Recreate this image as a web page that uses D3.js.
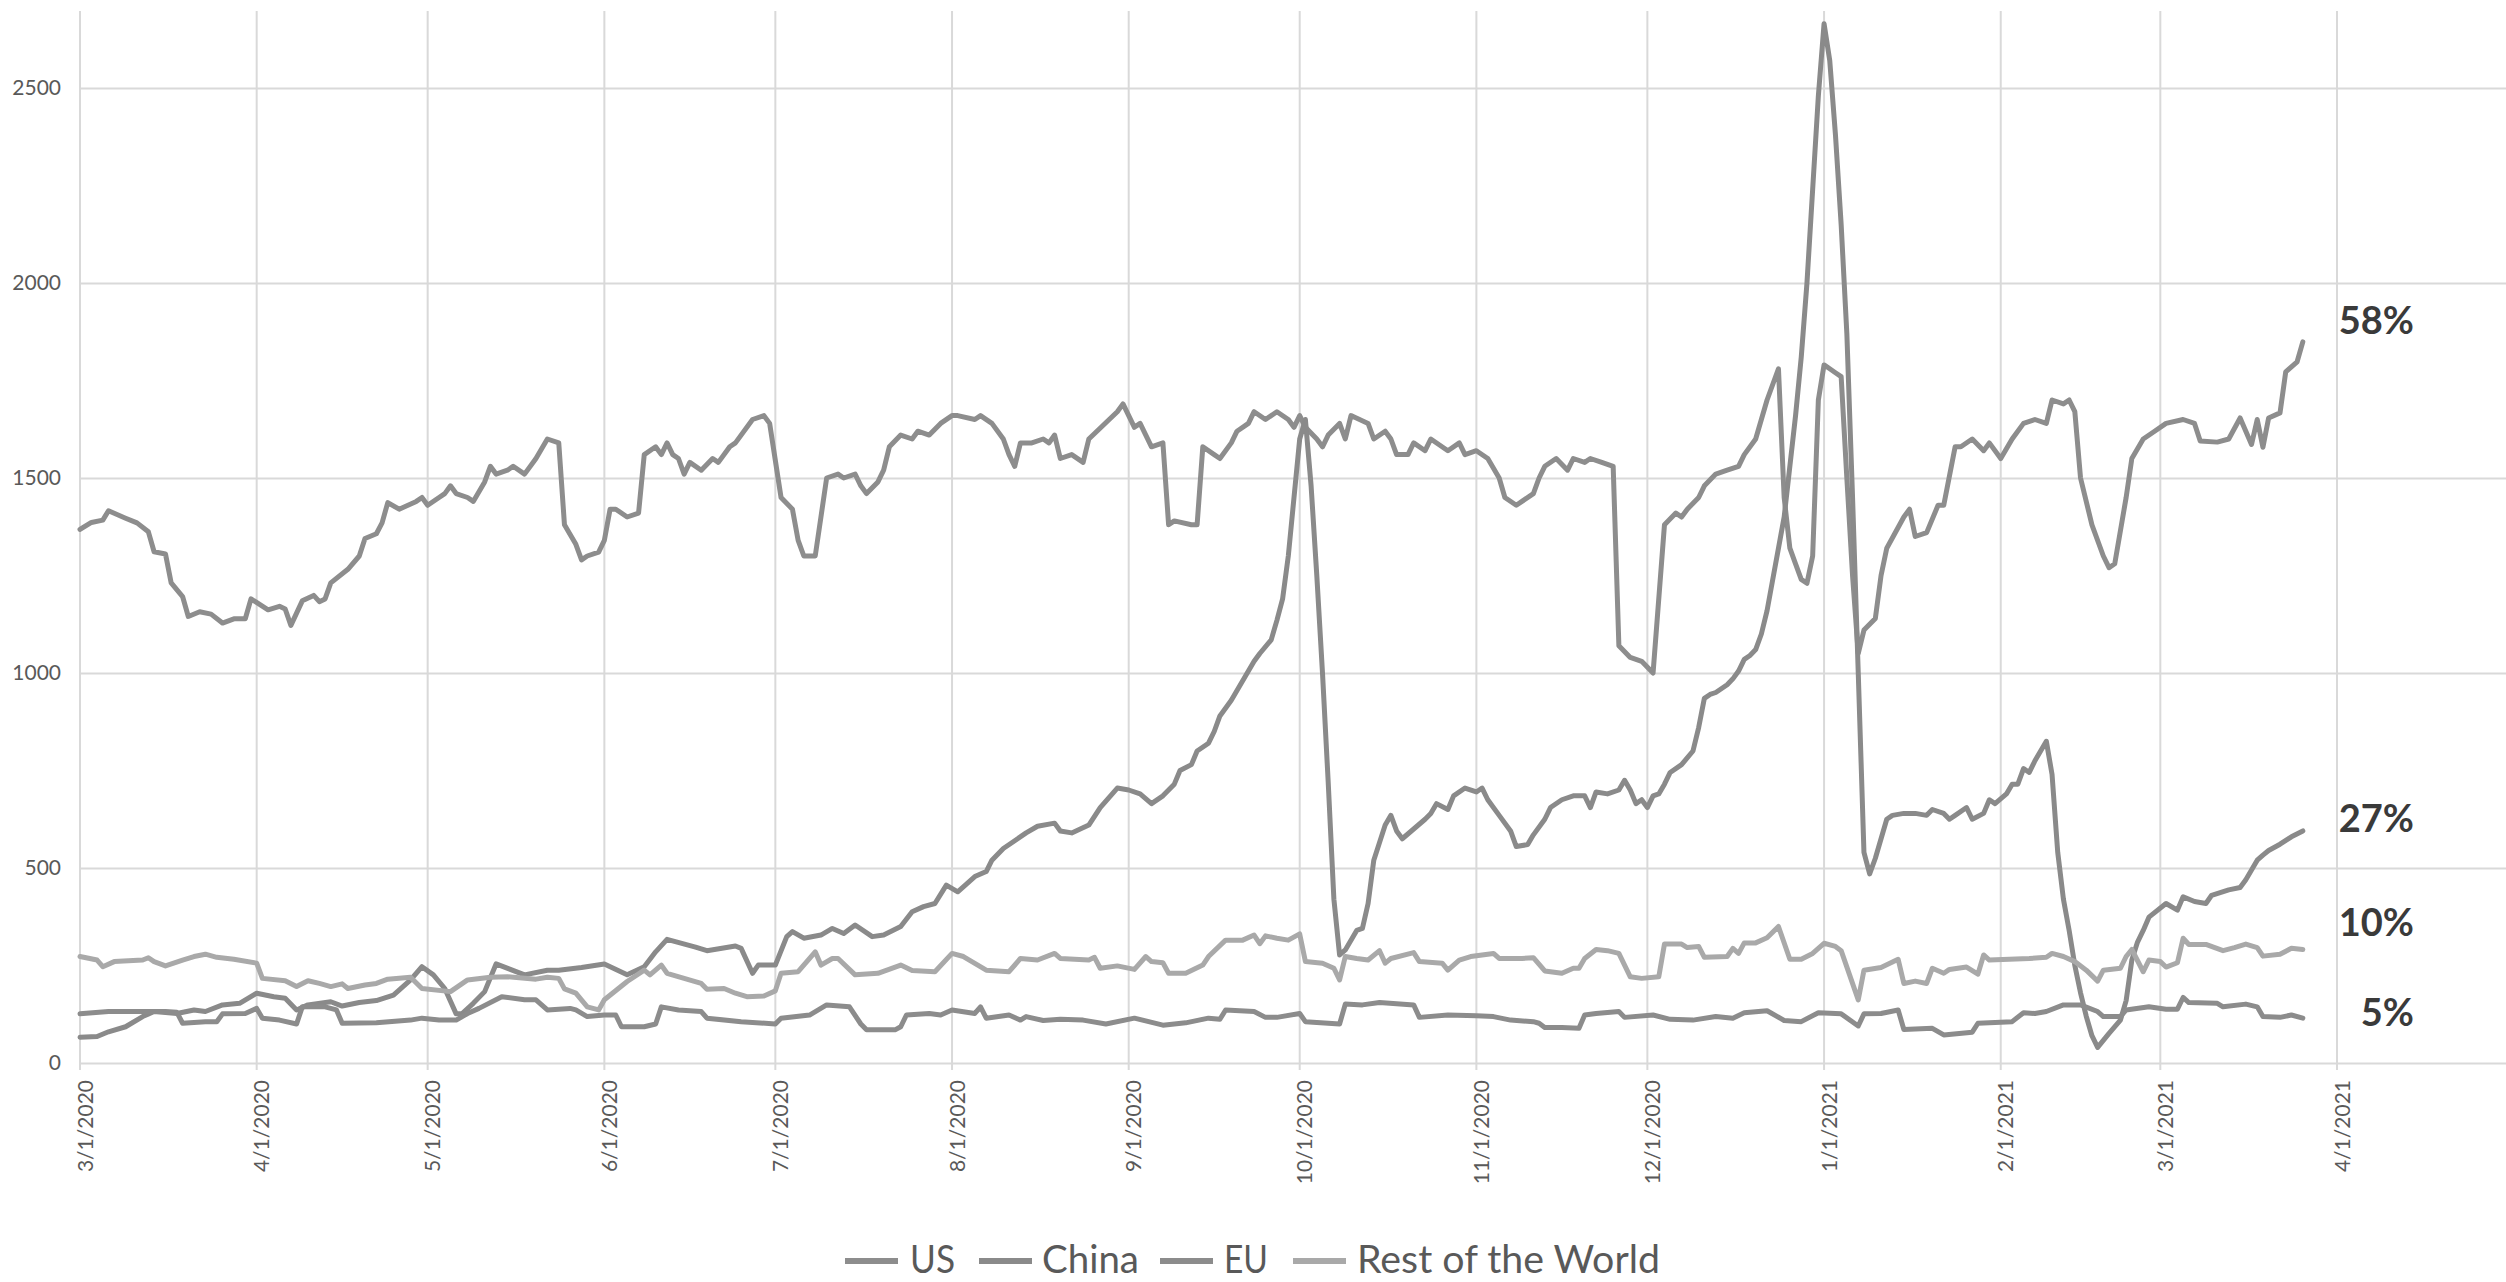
<!DOCTYPE html>
<html>
<head>
<meta charset="utf-8">
<script src="https://cdn.jsdelivr.net/npm/d3@7"></script>
<style>
  html, body { margin: 0; padding: 0; background: #ffffff; }
  svg { display: block; }
</style>
</head>
<body>
<div id="chart"></div>
<script>
// ---------------- DATA ----------------
const startDate = "2020-03-01";           // day 0 of every series
const seriesNames = ["US", "China", "EU", "Rest of the World"];
const shareLabels = ["58%", "27%", "10%", "5%"];
const yTickValues = [0, 500, 1000, 1500, 2000, 2500];
const lastLabelledMonth = "2021-04-01";

// [days since startDate, value]
const usPoints = [[0,1368],[2,1386],[4,1392],[5,1416],[8,1397],[10,1385],[12,1362],[13,1311],[15,1305],[16,1231],[18,1196],[19,1145],[21,1157],[23,1151],[25,1128],[27,1139],[29,1139],[30,1190],[33,1162],[35,1171],[36,1164],[37,1122],[39,1185],[41,1199],[42,1183],[43,1190],[44,1231],[47,1266],[49,1300],[50,1345],[52,1357],[53,1385],[54,1437],[56,1420],[59,1440],[60,1450],[61,1430],[63,1450],[64,1460],[65,1480],[66,1460],[68,1450],[69,1440],[71,1490],[72,1530],[73,1510],[75,1520],[76,1530],[78,1510],[80,1550],[82,1600],[84,1590],[85,1380],[87,1330],[88,1290],[89,1300],[91,1310],[92,1340],[93,1420],[94,1420],[96,1400],[98,1410],[99,1560],[101,1580],[102,1560],[103,1590],[104,1560],[105,1550],[106,1510],[107,1540],[109,1520],[111,1550],[112,1540],[114,1580],[115,1590],[118,1650],[120,1660],[121,1640],[123,1450],[125,1420],[126,1340],[127,1300],[129,1300],[131,1500],[133,1510],[134,1500],[136,1510],[137,1480],[138,1460],[140,1490],[141,1520],[142,1580],[144,1610],[146,1600],[147,1620],[149,1610],[151,1640],[153,1660],[154,1660],[157,1650],[158,1660],[160,1640],[162,1600],[163,1560],[164,1530],[165,1590],[167,1590],[169,1600],[170,1590],[171,1610],[172,1550],[174,1560],[176,1540],[177,1600],[182,1670],[183,1690],[185,1630],[186,1640],[187,1610],[188,1580],[190,1590],[191,1380],[192,1390],[195,1380],[196,1380],[197,1580],[199,1560],[200,1550],[202,1590],[203,1620],[205,1640],[206,1670],[208,1650],[210,1670],[212,1650],[213,1630],[214,1660],[215,1630],[217,1600],[218,1580],[219,1610],[221,1640],[222,1600],[223,1660],[226,1640],[227,1600],[229,1620],[230,1600],[231,1560],[233,1560],[234,1590],[236,1570],[237,1600],[240,1570],[242,1590],[243,1560],[245,1570],[247,1550],[249,1500],[250,1450],[252,1430],[253,1440],[255,1460],[256,1500],[257,1530],[259,1550],[261,1520],[262,1550],[264,1540],[265,1550],[267,1540],[269,1530],[270,1070],[272,1040],[274,1030],[276,1000],[278,1380],[280,1410],[281,1400],[282,1420],[284,1450],[285,1480],[287,1510],[289,1520],[291,1530],[292,1560],[294,1600],[295,1650],[296,1700],[298,1780],[299,1450],[300,1320],[301,1280],[302,1240],[303,1230],[304,1300],[305,1700],[306,1790],[307,1780],[308,1770],[309,1760],[310,1500],[311,1250],[312,1050],[313,1110],[315,1140],[316,1250],[317,1320],[320,1400],[321,1420],[322,1350],[324,1360],[326,1430],[327,1430],[329,1580],[330,1580],[332,1600],[334,1570],[335,1590],[337,1550],[339,1600],[341,1640],[343,1650],[345,1640],[346,1700],[348,1690],[349,1700],[350,1670],[351,1500],[353,1380],[355,1300],[356,1270],[357,1280],[359,1450],[360,1550],[362,1600],[364,1620],[366,1640],[369,1650],[371,1640],[372,1595],[375,1592],[377,1600],[379,1654],[381,1586],[382,1650],[383,1579],[384,1654],[386,1667],[387,1772],[389,1798],[390,1849]];

const chinaPoints = [[0,66],[3,68],[5,80],[8,93],[11,119],[13,132],[17,127],[20,136],[22,132],[25,149],[28,153],[31,179],[34,170],[36,166],[38,136],[40,149],[44,157],[46,146],[49,155],[52,160],[55,174],[58,213],[60,247],[62,226],[64,191],[66,126],[67,126],[69,153],[71,183],[73,254],[78,226],[82,238],[84,238],[88,245],[92,254],[96,226],[99,247],[101,285],[103,317],[108,297],[110,288],[115,300],[116,294],[118,230],[119,251],[122,251],[124,324],[125,337],[127,320],[130,328],[132,345],[134,332],[136,354],[139,324],[141,328],[144,350],[146,388],[148,401],[150,409],[152,456],[154,439],[157,478],[159,491],[160,520],[162,550],[164,570],[166,590],[168,607],[171,615],[172,595],[174,590],[177,610],[179,655],[182,705],[184,700],[186,690],[188,665],[190,685],[192,715],[193,750],[195,765],[196,800],[198,820],[199,850],[200,890],[202,930],[203,955],[205,1005],[206,1030],[207,1050],[209,1085],[210,1135],[211,1190],[212,1300],[213,1450],[214,1600],[215,1650],[216,1480],[217,1250],[218,1000],[219,720],[220,420],[221,277],[222,290],[224,340],[225,345],[226,409],[227,520],[229,610],[230,635],[231,595],[232,575],[234,600],[236,625],[237,640],[238,665],[240,650],[241,685],[243,705],[245,695],[246,705],[247,675],[249,635],[251,595],[252,555],[254,560],[255,585],[257,625],[258,655],[260,675],[262,685],[264,685],[265,655],[266,695],[268,690],[270,700],[271,725],[272,700],[273,665],[274,675],[275,655],[276,685],[277,690],[278,715],[279,745],[281,765],[283,800],[284,860],[285,935],[286,945],[287,950],[289,970],[290,985],[291,1005],[292,1035],[293,1045],[294,1060],[295,1100],[296,1160],[297,1240],[298,1320],[299,1400],[300,1530],[301,1660],[302,1810],[303,2000],[304,2240],[305,2480],[306,2665],[307,2570],[308,2380],[309,2150],[310,1870],[311,1450],[312,1000],[313,540],[314,485],[315,525],[317,625],[318,635],[320,640],[322,640],[324,635],[325,650],[327,640],[328,625],[329,635],[331,655],[332,625],[334,640],[335,675],[336,665],[338,690],[339,715],[340,715],[341,755],[342,745],[343,775],[344,800],[345,825],[346,740],[347,540],[348,420],[349,340],[350,250],[351,180],[352,120],[353,70],[354,40],[356,76],[358,110],[359,160],[360,264],[361,310],[362,340],[363,374],[366,409],[368,392],[369,426],[371,414],[373,409],[374,430],[377,444],[379,450],[380,470],[382,520],[383,533],[384,545],[386,561],[388,580],[390,595]];

const euPoints = [[0,126],[5,132],[11,132],[15,132],[17,130],[18,102],[22,106],[24,106],[25,126],[29,127],[31,140],[32,115],[35,110],[38,100],[39,144],[43,144],[45,136],[46,102],[52,103],[58,110],[60,115],[63,110],[66,110],[68,127],[70,140],[74,170],[78,162],[80,162],[82,136],[86,140],[87,136],[89,119],[92,123],[94,123],[95,93],[99,93],[101,100],[102,144],[105,136],[109,132],[110,115],[116,106],[122,100],[123,115],[128,123],[131,149],[135,144],[137,100],[138,85],[143,85],[144,93],[145,123],[149,127],[151,123],[153,136],[157,127],[158,144],[159,115],[163,123],[165,110],[166,119],[169,109],[172,112],[176,110],[180,100],[185,115],[190,97],[194,103],[198,115],[200,112],[201,136],[206,132],[208,117],[210,117],[214,127],[215,106],[221,100],[222,151],[225,149],[228,155],[234,149],[235,117],[240,123],[245,121],[248,119],[251,110],[255,106],[256,102],[257,91],[260,91],[263,89],[264,123],[266,127],[270,132],[271,117],[276,123],[279,112],[283,110],[287,119],[290,115],[292,129],[296,134],[299,109],[302,106],[305,129],[309,126],[312,95],[313,126],[316,127],[319,136],[320,86],[325,89],[327,72],[332,79],[333,102],[339,106],[341,129],[343,127],[345,132],[348,149],[351,149],[354,132],[355,119],[358,119],[359,136],[363,144],[366,138],[368,138],[369,168],[370,155],[375,153],[376,144],[380,151],[382,144],[383,119],[386,117],[388,123],[390,115]];

const rowPoints = [[0,273],[3,264],[4,247],[6,260],[11,264],[12,270],[13,260],[15,249],[18,264],[20,273],[22,279],[24,271],[27,266],[31,256],[32,217],[36,211],[38,196],[40,211],[42,204],[44,196],[46,203],[47,191],[50,200],[52,204],[54,215],[58,220],[60,191],[65,183],[68,213],[72,220],[75,221],[80,215],[82,220],[84,217],[85,190],[87,179],[89,144],[91,136],[92,162],[96,209],[99,238],[100,226],[102,251],[103,230],[106,217],[109,204],[110,189],[113,191],[115,179],[117,170],[120,172],[122,185],[123,230],[126,234],[129,285],[130,251],[132,268],[133,268],[136,226],[140,230],[144,251],[146,237],[150,234],[153,281],[155,273],[159,238],[163,234],[165,268],[168,264],[171,281],[172,268],[177,264],[178,271],[179,243],[182,249],[185,240],[187,273],[188,260],[190,257],[191,230],[194,230],[197,251],[198,273],[201,315],[204,315],[206,328],[207,306],[208,326],[210,320],[212,315],[214,331],[215,260],[218,256],[220,243],[221,213],[222,273],[224,268],[226,264],[228,288],[229,256],[230,268],[234,283],[235,260],[239,256],[240,238],[242,264],[244,273],[248,281],[249,268],[253,268],[255,270],[257,236],[260,230],[262,243],[263,243],[264,268],[266,291],[268,288],[270,281],[272,221],[274,217],[277,221],[278,305],[281,305],[282,296],[284,299],[285,271],[289,273],[290,294],[291,281],[292,308],[294,308],[296,321],[298,350],[300,266],[302,266],[304,281],[306,307],[308,299],[309,288],[312,162],[313,238],[316,245],[319,266],[320,204],[322,210],[324,204],[325,243],[327,230],[328,240],[331,246],[333,228],[334,277],[335,264],[342,268],[345,271],[346,281],[348,273],[350,260],[352,238],[354,210],[355,238],[358,243],[359,273],[360,291],[362,234],[363,264],[365,260],[366,246],[368,257],[369,320],[370,304],[373,304],[376,288],[378,296],[380,305],[382,296],[383,274],[386,279],[388,294],[390,291]];

// ---------------- LAYOUT / STYLE ----------------
const W = 2506, H = 1282;
const plot = { left: 80, right: 2508, top: 11, bottom: 1063 };
const colors = ["#8d8d8d", "#8a8a8a", "#8c8c8c", "#a9a9a9"];
const font = "Lato, 'Open Sans', 'DejaVu Sans', sans-serif";

const svg = d3.select("#chart").append("svg")
  .attr("width", W).attr("height", H)
  .style("background", "#fff");

const parse = d3.utcParse("%Y-%m-%d");
const t0 = parse(startDate);
const toSeries = pts => pts.map(([d, v]) => ({ date: d3.utcDay.offset(t0, d), value: v }));
const allSeries = [usPoints, chinaPoints, euPoints, rowPoints].map(toSeries);

const x = d3.scaleUtc()
  .domain([parse("2020-03-01"), parse("2021-05-01")])
  .range([plot.left, plot.right]);
const y = d3.scaleLinear().domain([0, 2500]).range([plot.bottom, 88]);

// horizontal gridlines + y labels
const yAxis = d3.axisLeft(y).tickValues(yTickValues)
  .tickSize(-(W - plot.left)).tickPadding(19).tickFormat(d3.format("d"));
const gy = svg.append("g").attr("transform", `translate(${plot.left},0)`).call(yAxis);
gy.select(".domain").remove();
gy.selectAll(".tick line").attr("stroke", "#d9d9d9").attr("stroke-width", 2);
gy.selectAll(".tick text").attr("fill", "#595959")
  .style("font-family", font).style("font-size", "21px");

// vertical gridlines (monthly)
const months = x.ticks(d3.utcMonth.every(1));
svg.append("g").selectAll("line").data(months).join("line")
  .attr("x1", d => x(d)).attr("x2", d => x(d))
  .attr("y1", plot.top).attr("y2", plot.bottom + 7)
  .attr("stroke", "#d9d9d9").attr("stroke-width", 2);

// x labels
const fmt = d3.utcFormat("%-m/%-d/%Y");
const lastLabel = parse(lastLabelledMonth);
svg.append("g").selectAll("text").data(months.filter(d => d <= lastLabel)).join("text")
  .attr("transform", d => `translate(${x(d) + 4},${plot.bottom + 17}) rotate(-90)`)
  .attr("text-anchor", "end")
  .attr("dominant-baseline", "central")
  .attr("fill", "#595959")
  .style("font-family", font).style("font-size", "21px")
  .text(d => fmt(d));

// lines
const line = d3.line().x(d => x(d.date)).y(d => y(d.value));
svg.append("g").selectAll("path").data(allSeries).join("path")
  .attr("d", line)
  .attr("fill", "none")
  .attr("stroke", (d, i) => colors[i])
  .attr("stroke-width", 5)
  .attr("stroke-linejoin", "round")
  .attr("stroke-linecap", "round");

// share labels at the right
const labelPos = [334, 832, 936, 1026];
svg.append("g").selectAll("text").data(shareLabels).join("text")
  .attr("x", 2414).attr("y", (d, i) => labelPos[i])
  .attr("text-anchor", "end")
  .attr("fill", "#3a3a3a")
  .style("font-family", font).style("font-size", "38px").style("font-weight", "bold")
  .text(d => d);

// legend
const legendItems = [
  { mx: 845, tx: 910, tw: 45 },
  { mx: 979, tx: 1042, tw: 97 },
  { mx: 1160, tx: 1224, tw: 44 },
  { mx: 1293, tx: 1357, tw: 303 }
];
const lg = svg.append("g");
seriesNames.forEach((name, i) => {
  const it = legendItems[i];
  lg.append("line")
    .attr("x1", it.mx).attr("x2", it.mx + 53)
    .attr("y1", 1261).attr("y2", 1261)
    .attr("stroke", colors[i]).attr("stroke-width", 6);
  lg.append("text")
    .attr("x", it.tx).attr("y", 1273)
    .attr("fill", "#595959")
    .attr("textLength", it.tw).attr("lengthAdjust", "spacingAndGlyphs")
    .style("font-family", font).style("font-size", "39px")
    .text(name);
});
</script>
</body>
</html>
